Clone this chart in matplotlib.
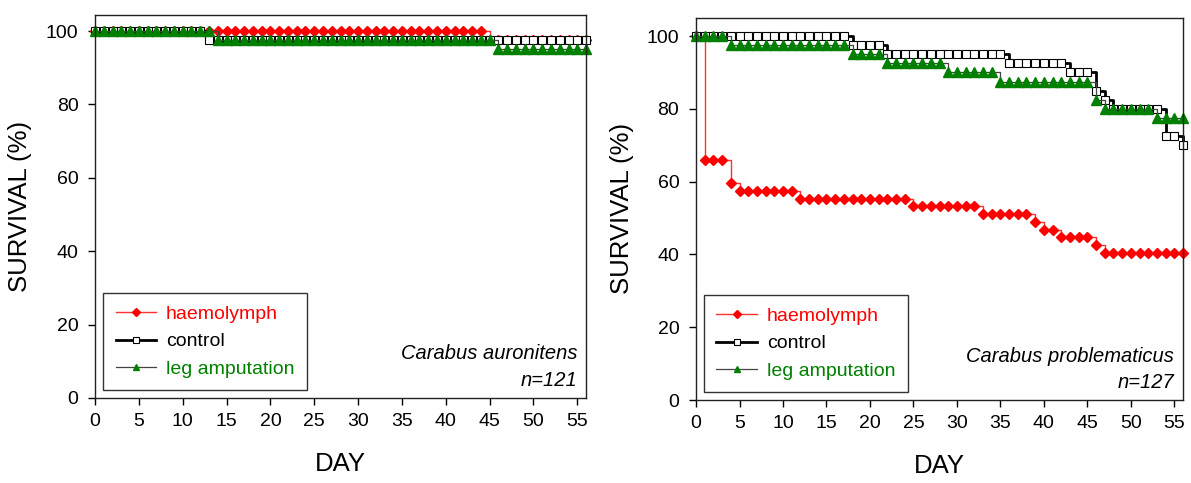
import numpy as np
import matplotlib
matplotlib.use('Agg')
import matplotlib.pyplot as plt

plt.rcParams['font.family'] = ['Liberation Sans', 'DejaVu Sans']

days = np.arange(0, 57)

# Carabus auronitens (n=121), survival % per day
auro_haemo = [100] * 45 + [97.5] * 12
auro_ctrl = [100] * 13 + [97.5] * 44
auro_leg = [100] * 14 + [97.5] * 32 + [95] * 11

# Carabus problematicus (n=127)
prob_haemo = ([100] + [66.0] * 3 + [59.6] + [57.4] * 7 + [55.3] * 13 + [53.2] * 8
              + [51.1] * 6 + [48.9] + [46.8] * 2 + [44.7] * 4 + [42.6] + [40.4] * 10)
prob_ctrl = ([100] * 18 + [97.5] * 4 + [95] * 14 + [92.5] * 7 + [90] * 3 + [85]
             + [82.5] + [80] * 6 + [72.5] * 2 + [70])
prob_leg = ([100] * 4 + [97.5] * 14 + [95] * 4 + [92.5] * 7 + [90] * 6 + [87.5] * 11
            + [82.5] + [80] * 6 + [77.5] * 4)

labels = ['haemolymph', 'control', 'leg amputation']
label_colors = ['red', 'black', 'green']
x_ticks = list(range(0, 56, 5))
y_ticks = list(range(0, 101, 20))

fig = plt.figure(figsize=(11.91, 4.83), dpi=100)
ax1 = fig.add_axes([0.0798, 0.176, 0.4123, 0.793])
ax2 = fig.add_axes([0.5844, 0.1718, 0.4089, 0.7913])


def draw(ax, haemo, ctrl, leg, species, n, ytop):
    ax.plot(days, haemo, drawstyle='steps-post', color='#ff3030', lw=1,
            marker='D', ms=5.5, mfc='red', mec='red', label=labels[0], clip_on=False)
    ax.plot(days, ctrl, drawstyle='steps-post', color='black', lw=2,
            marker='s', ms=6, mfc='white', mec='black', mew=0.8,
            label=labels[1], clip_on=False)
    ax.plot(days, leg, drawstyle='steps-post', color='#444444', lw=0.9,
            marker='^', ms=6.5, mfc='green', mec='green', label=labels[2], clip_on=False)

    ax.set_xlim(0, 56)
    ax.set_ylim(0, ytop)
    ax.set_xticks(x_ticks)
    ax.set_yticks(y_ticks)
    ax.tick_params(direction='out', length=5, width=1, labelsize=14, pad=6)
    ax.tick_params(axis='y', pad=7)
    for s in ax.spines.values():
        s.set_linewidth(1)
        s.set_color('#222222')

    ax.set_xlabel('DAY', fontsize=18.5)
    ax.set_ylabel('SURVIVAL (%)', fontsize=18.5)
    ax.xaxis.set_label_coords(0.5, -0.14)
    ax.yaxis.set_label_coords(-0.128, 0.5)

    leg_box = ax.legend(loc='lower left', bbox_to_anchor=(0.016, 0.02), borderaxespad=0,
                        fontsize=14, fancybox=False, framealpha=1, edgecolor='#333333',
                        handlelength=2.1, handletextpad=0.5, labelspacing=0.5,
                        borderpad=0.65, markerscale=0.7)
    leg_box.get_frame().set_linewidth(1)
    for t, c in zip(leg_box.get_texts(), label_colors):
        t.set_color(c)

    ax.text(0.982, 0.115, species, transform=ax.transAxes, ha='right', va='center',
            fontsize=14.5, style='italic')
    ax.text(0.982, 0.045, n, transform=ax.transAxes, ha='right', va='center',
            fontsize=14.5, style='italic')


draw(ax1, auro_haemo, auro_ctrl, auro_leg, 'Carabus auronitens', 'n=121', 104.4)
draw(ax2, prob_haemo, prob_ctrl, prob_leg, 'Carabus problematicus', 'n=127', 105)

fig.savefig('out.png', dpi=100)
